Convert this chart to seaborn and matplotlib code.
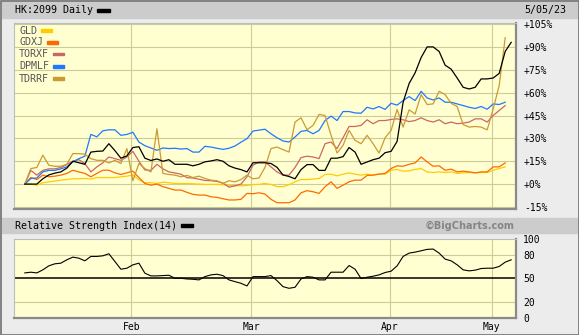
import numpy as np
import pandas as pd
import matplotlib
matplotlib.use("Agg")
import matplotlib.pyplot as plt
from matplotlib.patches import Rectangle
import seaborn as sns

# ---------------- data (percent change since start, trading-day index) ----------------
hk2099 = [0, 0, 0, 3.5, 6, 7.2, 8, 10.5, 15, 14, 13, 21, 21.5, 21.7, 26.5, 22, 17, 18.5, 24, 24.5,
          17, 15.5, 16.5, 15, 16, 13, 13, 13, 12, 13, 14.6, 15.2, 16, 15, 12, 10.5, 9.5, 8, 14, 14,
          14, 13.5, 11, 6, 5, 3.5, 9.5, 12.8, 12.8, 9, 9, 17, 17, 18, 24, 21, 13, 14.5, 16, 17,
          20.6, 21.5, 28, 53.7, 66, 73, 83, 90, 90, 87, 78, 75.4, 69.6, 63.5, 62.4, 63.5, 69, 69, 69.6, 72.6,
          87, 93]
gld = [0, 0, -0.7, 0.9, 1.5, 2, 2.6, 3, 3.5, 3.5, 3.7, 3.3, 4.3, 4.3, 4.3, 4.3, 4.8, 5.2, 6, 2.8,
       0.9, 0.9, 0.4, 1.3, 0.9, 0.4, 0.4, 0.4, 0.2, 0, -0.2, -0.2, -0.2, -0.4, -0.9, -1.1, -1.1, -0.9, -0.3, -0.2,
       0.4, -0.2, -1.7, -1.7, -0.4, 1.5, 3, 3, 3.3, 3.7, 6.3, 6.5, 5.4, 6.5, 7.4, 6.5, 5.9, 6.5, 5.9, 6.7,
       6.5, 9.1, 9.6, 8.5, 8.7, 9.6, 10.2, 8, 7.6, 8, 7.6, 8, 7, 7.4, 7.6, 7.4, 7.6, 7.6, 9.1, 10.2,
       11.3, np.nan]
gdxj = [0, 4.3, 3, 5.9, 4.8, 5.2, 5.9, 7, 9.1, 8, 7, 4.8, 7, 9.1, 9.1, 7.4, 6.3, 7.4, 8.5, 4.3,
        0.4, -0.7, 0, -1.7, -2.8, -3.9, -3.9, -5.4, -6.7, -7.2, -7.2, -8.3, -8.7, -9.6, -10.4, -10.4, -10, -6.1, -6.3, -5.7,
        -6.5, -10, -12.2, -12.2, -12.2, -10.4, -5.7, -4.3, -5, -6.1, -1.7, 1.5, -2.8, -0.7, 1.5, 2.6, 2.6, 5.7, 5.9, 6.5,
        7, 10.2, 12, 11.7, 13, 13.9, 17.8, 14.6, 11.7, 12, 9.1, 9.8, 8, 8.5, 8, 7.4, 8, 8, 11.3, 11.3,
        13.9, np.nan]
torxf = [0, 9, 5.9, 9, 10, 10, 10.9, 12.8, 15, 16, 13.5, 8, 11.3, 14, 17.8, 16.7, 15.6, 17.8, 21.5, 15,
         9.3, 9, 13, 10, 8, 7.3, 6.5, 4.2, 4, 3.2, 2.4, 2.2, 1.8, 0.7, -2, -1.1, 0, 4.8, 12.4, 14.6,
         14.6, 11.3, 8, 5.9, 5.9, 10.9, 17.4, 18.3, 17.8, 16.7, 26.5, 27.6, 23.3, 30.4, 37.8, 37.8, 38.5, 42.2, 39.6, 41.7,
         41.7, 42.4, 42.8, 42.2, 41, 41.7, 43.5, 41.7, 40.7, 42.2, 39.6, 40.7, 39.6, 40, 40.7, 42.8, 42.8, 40.7, 45, 48.3,
         51.5, np.nan]
dpmlf = [0, 3.7, 4, 8, 9, 9, 10, 11.3, 14.6, 16.7, 18.3, 32.6, 31, 35, 35.6, 35.6, 32, 32.6, 34, 27.6,
         25.2, 23.7, 22.2, 23.7, 23.3, 23.5, 23, 23.3, 21, 21, 24.8, 24.3, 23.5, 22.8, 23.5, 25, 27.5, 29.8, 34.8, 35.4,
         36, 33, 30.4, 28.3, 27.6, 30.9, 34.6, 35.2, 33, 35.2, 41.7, 44.6, 41.7, 47.6, 47.6, 46.7, 46.5, 50.4, 49.3, 50.9,
         49, 53, 51.8, 54.8, 57.4, 54.8, 60.9, 56.5, 55.2, 56.5, 53.7, 53.7, 52.6, 51.5, 50.4, 49.6, 50.9, 49.1, 52.6, 52.2,
         53.7, np.nan]
tdrrf = [0, 10.2, 10.9, 19, 12.4, 11.7, 11.7, 13, 20, 20, 19.6, 16.7, 15.6, 15.6, 13.9, 15.6, 13.5, 23.3, 2.2, 13.5,
         10.2, 8, 36.3, 7, 6.3, 5.9, 4.8, 5.7, 4.3, 5.2, 3.7, 2.6, 2.2, 0.4, 2.2, 1.5, 3, 5.9, 3.5, 4,
         11, 23.3, 24.3, 22.6, 21, 40.7, 43.5, 35.7, 38.5, 45.7, 45, 32, 20.4, 25.4, 35.2, 28.7, 26.5, 32, 26.5, 20.4,
         30.4, 35.2, 49, 37.4, 48.7, 46, 58.7, 52.2, 52.6, 60.9, 58.7, 53, 50.9, 39, 37.4, 37.8, 37.4, 35.6, 49.3, 64.6,
         96, np.nan]
rsi = [56.8, 57.7, 56.8, 60.7, 65.8, 68.4, 69.2, 73.5, 76.9, 75.6, 72.2, 77.8, 77.8, 78.6, 81.2, 71.4, 61.5, 62.8, 67.1, 69.2,
       56.4, 53, 53, 53.4, 53.8, 50, 50, 49.1, 48.7, 47.9, 52.1, 54.3, 55.1, 53.4, 47.9, 45.7, 43.6, 40.2, 52.1, 52.1,
       52.1, 53.4, 47, 39.3, 37.2, 38.5, 49.1, 52.1, 51.3, 47.9, 47.9, 57.7, 57.7, 57.7, 66.2, 61.5, 49.6, 51.3, 52.6, 54.3,
       57.3, 59, 65.8, 77.8, 82, 83.3, 85, 86.8, 87.2, 82, 74.4, 72.2, 67.1, 60.7, 59.4, 60.3, 62.4, 62.8, 62.8, 65,
       70.5, 73.5]

series_names = ["GLD", "GDXJ", "TORXF", "DPMLF", "TDRRF"]
series_colors = ["#ffcc00", "#ff6a00", "#cc6666", "#1f78ff", "#cc9933"]
month_labels = ["Feb", "Mar", "Apr", "May"]
month_first_idx = [18, 38, 61, 78]          # index of first trading day of each month
main_ticks = list(range(-15, 106, 15))
rsi_ticks = [0, 20, 50, 80, 100]

n = len(hk2099)
for s in (gld, gdxj, torxf, dpmlf, tdrrf, rsi):
    assert len(s) == n, len(s)

idx = np.arange(n)
long = pd.concat([pd.DataFrame({"idx": idx, "value": v, "series": nm})
                  for nm, v in zip(series_names, [gld, gdxj, torxf, dpmlf, tdrrf])]).dropna()
main_df = pd.DataFrame({"idx": idx, "value": hk2099})
rsi_df = pd.DataFrame({"idx": idx, "value": rsi})

# ---------------- figure ----------------
W, H = 579, 335
plt.rcParams["font.family"] = ["DejaVu Sans Mono", "DejaVu Sans"]
fig = plt.figure(figsize=(W / 100, H / 100), dpi=100, facecolor="#ececec")

def fx(p):
    return p / W

def fy(p):
    return 1 - p / H

def frect(x0, y0, x1, y1, **kw):
    fig.patches.append(Rectangle((fx(x0), fy(y1)), (x1 - x0) / W, (y1 - y0) / H,
                                 transform=fig.transFigure, figure=fig, **kw))

# header bands and outer border
frect(2, 2.5, 577, 17.5, color="#cccccc", zorder=0)
frect(2, 218, 577, 233, color="#cccccc", zorder=0)
frect(0.5, 0.5, 578.5, 334.5, fill=False, edgecolor="#707070", lw=1.2, zorder=5)

BG = "#ffffd2"
GRID = "#cccc99"
XMIN, XMAX = -1.8, 81.8
month_pos = [m - 0.25 for m in month_first_idx]

# ---------------- main panel ----------------
ax1 = fig.add_axes([fx(14), fy(208.5), (516 - 14) / W, (208.5 - 22.5) / H])
ax1.set_facecolor(BG)
sns.lineplot(data=long, x="idx", y="value", hue="series", hue_order=series_names,
             palette=dict(zip(series_names, series_colors)), estimator=None,
             linewidth=0.9, legend=False, ax=ax1)
sns.lineplot(data=main_df, x="idx", y="value", color="black", estimator=None,
             linewidth=0.9, ax=ax1)
ax1.set_xlim(XMIN, XMAX)
ax1.set_ylim(-16, 106)
ax1.set_xticks(month_pos)
ax1.set_xticklabels([])
ax1.set_yticks(main_ticks)
ax1.set_yticklabels([("+%d%%" % t) if t >= 0 else ("%d%%" % t) for t in main_ticks])
ax1.yaxis.tick_right()
ax1.tick_params(axis="both", length=0)
ax1.tick_params(axis="y", pad=5.8, labelsize=7, labelcolor="black")
ax1.grid(True, color=GRID, linewidth=0.8)
ax1.set_axisbelow(True)
ax1.set_xlabel("")
ax1.set_ylabel("")

# ---------------- RSI panel ----------------
ax2 = fig.add_axes([fx(14), fy(317.5), (516 - 14) / W, (317.5 - 239) / H])
ax2.set_facecolor(BG)
for v in (20, 80):
    ax2.axhline(v, color=GRID, linewidth=0.8, zorder=0.5)
ax2.axhline(50, color="black", linewidth=1.1, zorder=1)
sns.lineplot(data=rsi_df, x="idx", y="value", color="black", estimator=None,
             linewidth=0.8, ax=ax2)
ax2.set_xlim(XMIN, XMAX)
ax2.set_ylim(0, 100)
ax2.set_xticks(month_pos)
ax2.set_xticklabels(month_labels)
ax2.set_yticks(rsi_ticks)
ax2.set_yticklabels([str(t) for t in rsi_ticks])
ax2.yaxis.tick_right()
ax2.tick_params(axis="both", length=0, labelsize=7, labelcolor="black")
ax2.tick_params(axis="y", pad=5.2)
ax2.tick_params(axis="x", pad=3.0)
ax2.grid(True, axis="x", color=GRID, linewidth=0.8)
ax2.set_axisbelow(True)
ax2.set_xlabel("")
ax2.set_ylabel("")

for ax in (ax1, ax2):
    ax.spines["top"].set_color("#bdbdbd")
    ax.spines["left"].set_color("#bdbdbd")
    ax.spines["top"].set_linewidth(0.8)
    ax.spines["left"].set_linewidth(0.8)
    ax.spines["bottom"].set_color("#8a8a8a")
    ax.spines["right"].set_color("#8a8a8a")
    ax.spines["bottom"].set_linewidth(1.6)
    ax.spines["right"].set_linewidth(1.6)

# ---------------- texts ----------------
mono = dict(family=["DejaVu Sans Mono", "DejaVu Sans"], size=7.2, va="center")
fig.text(fx(15), fy(10.3), "HK:2099 Daily", color="black", **mono)
frect(97, 8.7, 110, 11.7, color="black", zorder=3)
fig.text(fx(524), fy(10.3), "5/05/23", color="black", **mono)

fig.text(fx(15), fy(225.8), "Relative Strength Index(14)", color="black", **mono)
frect(181, 224.3, 193, 227.3, color="black", zorder=3)
fig.text(fx(515), fy(225.8), "\u00a9BigCharts.com", color="#858585", ha="right", va="center",
         family=["DejaVu Sans", "DejaVu Sans Mono"], weight="bold", size=7)

legend_y = [30.7, 42.3, 54.0, 66.3, 78.7]
legend_x0 = [41, 47, 53, 53, 53]
for nm, col, yy, x0 in zip(series_names, series_colors, legend_y, legend_x0):
    fig.text(fx(19), fy(yy), nm, color="#555555", zorder=6, **mono)
    frect(x0, yy - 1.3, x0 + 11, yy + 1.3, color=col, zorder=6)

fig.savefig("out.png", dpi=100, facecolor=fig.get_facecolor())
